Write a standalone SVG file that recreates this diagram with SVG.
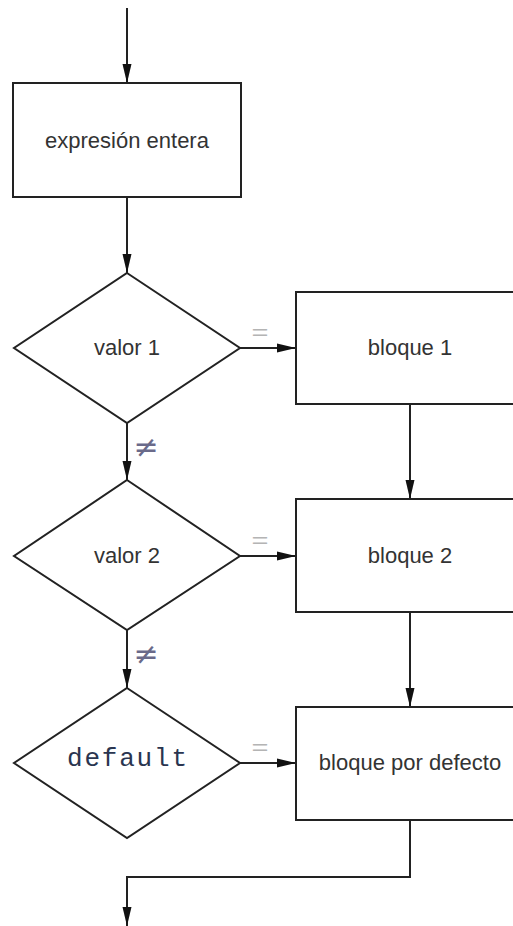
<svg xmlns="http://www.w3.org/2000/svg" width="513" height="926" viewBox="0 0 513 926">
  <style>
    .shape { fill: #ffffff; stroke: #222222; stroke-width: 2; }
    .edge { fill: none; stroke: #222222; stroke-width: 2; marker-end: url(#head); }
    .lbl { font-family: "Liberation Sans", Arial, sans-serif; font-size: 22px; fill: #333333; text-anchor: middle; }
    .code { font-family: "Liberation Mono", "Courier New", monospace; font-size: 26px; fill: #2a3550; text-anchor: middle; }
    .eq { font-family: "Liberation Sans", Arial, sans-serif; font-size: 22px; fill: #b4b4b4; text-anchor: middle; }
    .ne { font-family: "DejaVu Sans", sans-serif; font-size: 30px; fill: #6a6a8a; text-anchor: middle; }
  </style>
  <defs>
    <marker id="head" markerUnits="userSpaceOnUse" markerWidth="20" markerHeight="10" refX="19" refY="5" orient="auto">
      <path d="M0,0.5 L19,5 L0,9.5 z" fill="#111111"/>
    </marker>
  </defs>
  <rect width="513" height="926" fill="#ffffff"/>

  <!-- connectors -->
  <g id="connectors">
    <path class="edge" d="M127,8 V83"/>
    <path class="edge" d="M127,197 V273"/>
    <path class="edge" d="M240,348 H296"/>
    <path class="edge" d="M127,423 V480"/>
    <path class="edge" d="M410,404 V499"/>
    <path class="edge" d="M240,556 H296"/>
    <path class="edge" d="M127,630 V688"/>
    <path class="edge" d="M410,612 V707"/>
    <path class="edge" d="M240,763 H296"/>
    <path class="edge" d="M410,820 V877 H127 V926"/>
    <text class="eq" x="260" y="340" textLength="17" lengthAdjust="spacingAndGlyphs">=</text>
    <text class="eq" x="260" y="548" textLength="17" lengthAdjust="spacingAndGlyphs">=</text>
    <text class="eq" x="260" y="755" textLength="17" lengthAdjust="spacingAndGlyphs">=</text>
    <text class="ne" x="146" y="457">≠</text>
    <text class="ne" x="146" y="664">≠</text>
  </g>

  <g id="expr">
    <rect class="shape" x="13" y="83" width="228" height="114"/>
    <text class="lbl" x="127" y="148">expresión entera</text>
  </g>

  <g id="valor1">
    <polygon class="shape" points="127,273 240,348 127,423 14,348"/>
    <text class="lbl" x="127" y="355">valor 1</text>
  </g>

  <g id="bloque1">
    <rect class="shape" x="296" y="292" width="230" height="112"/>
    <text class="lbl" x="410" y="355">bloque 1</text>
  </g>

  <g id="valor2">
    <polygon class="shape" points="127,480 240,556 127,630 14,556"/>
    <text class="lbl" x="127" y="563">valor 2</text>
  </g>

  <g id="bloque2">
    <rect class="shape" x="296" y="499" width="230" height="113"/>
    <text class="lbl" x="410" y="563">bloque 2</text>
  </g>

  <g id="default">
    <polygon class="shape" points="127,688 240,763 127,838 14,763"/>
    <text class="code" x="127" y="766" textLength="120">default</text>
  </g>

  <g id="bloque-defecto">
    <rect class="shape" x="296" y="707" width="230" height="113"/>
    <text class="lbl" x="410" y="770">bloque por defecto</text>
  </g>
</svg>
